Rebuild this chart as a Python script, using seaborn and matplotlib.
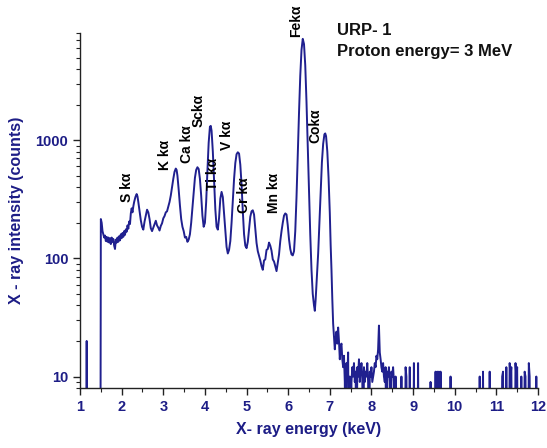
import matplotlib
matplotlib.use("Agg")
import matplotlib.pyplot as plt
import matplotlib.ticker as mticker
import seaborn as sns
import pandas as pd

# ---- data ----
energy_low = [1.00, 1.15, 1.16, 1.17, 1.49, 1.50,
              1.52, 1.54, 1.56, 1.58, 1.60, 1.62, 1.64, 1.66, 1.68, 1.70,
              1.72, 1.74, 1.76, 1.78, 1.80, 1.82, 1.84, 1.86, 1.88, 1.90,
              1.92, 1.94, 1.96, 1.98, 2.00, 2.02, 2.04, 2.06, 2.08, 2.10,
              2.12, 2.14, 2.16, 2.18, 2.20, 2.22, 2.24, 2.26, 2.28, 2.30,
              2.33, 2.36, 2.38, 2.40, 2.43, 2.46, 2.49, 2.52, 2.55, 2.58,
              2.61, 2.64, 2.67, 2.70, 2.73, 2.76, 2.79, 2.82, 2.85, 2.88,
              2.91, 2.94, 2.97, 3.00, 3.03, 3.06, 3.09, 3.12, 3.15, 3.18]
counts_low = [1, 1, 20, 1, 1, 215,
              200, 170, 160, 150, 156, 140, 152, 138, 150, 136,
              148, 132, 150, 138, 146, 128, 120, 144, 136, 150,
              138, 154, 142, 160, 148, 164, 152, 170, 158, 176,
              168, 190, 178, 205, 195, 240, 265, 245, 275, 300,
              330, 350, 335, 300, 250, 210, 185, 175, 205, 230,
              258, 245, 215, 180, 170, 182, 195, 208, 190, 182,
              172, 188, 198, 218, 228, 245, 250, 275, 300, 340]

energy_mid = [3.21, 3.24, 3.27, 3.30, 3.32, 3.34, 3.37, 3.40, 3.43, 3.46,
              3.49, 3.52, 3.55, 3.58, 3.61, 3.64, 3.67, 3.70, 3.73, 3.76,
              3.79, 3.82, 3.85, 3.88, 3.91, 3.94, 3.97, 4.00, 4.03, 4.06,
              4.09, 4.12, 4.14, 4.16, 4.19, 4.22, 4.25, 4.28, 4.31, 4.34,
              4.37, 4.40, 4.43, 4.46, 4.49, 4.52, 4.55, 4.58, 4.61, 4.64,
              4.67, 4.70, 4.73, 4.76, 4.79, 4.82, 4.85, 4.88, 4.91, 4.94,
              4.97, 5.00, 5.03, 5.06, 5.09, 5.12, 5.15, 5.18, 5.21, 5.24,
              5.27, 5.30, 5.33, 5.36, 5.39, 5.42, 5.45, 5.48, 5.51, 5.54,
              5.57, 5.60, 5.63, 5.66, 5.69, 5.72, 5.75, 5.78, 5.81, 5.84,
              5.87, 5.90, 5.93, 5.96, 5.99, 6.02, 6.05, 6.08, 6.11, 6.14]
counts_mid = [400, 470, 540, 575, 560, 500, 380, 280, 215, 185,
              170, 150, 152, 138, 144, 160, 200, 270, 370, 480,
              560, 590, 570, 470, 340, 230, 185, 200, 300, 550,
              950, 1300, 1320, 1200, 800, 450, 260, 185, 175, 220,
              320, 365, 330, 240, 170, 125, 110, 118, 140, 200,
              310, 470, 640, 760, 790, 770, 620, 420, 250, 160,
              128, 122, 138, 175, 225, 250, 255, 235, 180, 135,
              115, 105, 96, 86, 80, 96, 98, 118, 120, 136,
              128, 116, 98, 94, 86, 78, 92, 108, 140, 170,
              200, 230, 240, 235, 190, 145, 120, 108, 106, 115]

energy_fe_co = [6.17, 6.20, 6.23, 6.26, 6.29, 6.32, 6.35, 6.38, 6.41, 6.44,
                6.47, 6.50, 6.53, 6.56, 6.59, 6.62, 6.64, 6.66, 6.69, 6.72,
                6.75, 6.78, 6.81, 6.84, 6.87, 6.89, 6.91, 6.94, 6.97, 7.00,
                7.02, 7.04, 7.06, 7.08, 7.10, 7.12, 7.14, 7.16, 7.18, 7.20,
                7.22, 7.24, 7.26, 7.28, 7.30, 7.32, 7.34, 7.36, 7.38, 7.40,
                7.42, 7.44, 7.46]
counts_fe_co = [170, 330, 750, 1700, 3500, 5800, 7200, 6500, 4300, 2100,
                900, 380, 160, 80, 50, 40, 36, 45, 70, 110,
                200, 370, 650, 930, 1120, 1140, 1080, 800, 480, 240,
                130, 80, 45, 28, 22, 17, 21, 24, 19, 26,
                20, 14, 18, 19, 14, 12, 15, 9, 1, 13,
                10, 16, 1]

energy_tail = [7.48, 7.50, 7.52, 7.54, 7.56, 7.58, 7.60, 7.62, 7.64, 7.66,
               7.68, 7.70, 7.72, 7.74, 7.76, 7.78, 7.80, 7.82, 7.84, 7.86,
               7.88, 7.90, 7.92, 7.94, 7.96, 7.98, 8.00, 8.02, 8.04, 8.06,
               8.08, 8.10, 8.12, 8.14, 8.16, 8.18, 8.20, 8.22, 8.24, 8.26,
               8.28, 8.30, 8.32, 8.34, 8.36, 8.38, 8.40, 8.42, 8.44, 8.46,
               8.48, 8.50, 8.52, 8.54, 8.56, 8.58, 8.60, 8.70, 8.72, 8.74,
               8.80, 8.82, 8.84, 8.86, 8.90, 8.92, 8.94, 9.00, 9.02, 9.04,
               9.10, 9.12, 9.14, 9.40, 9.42, 9.44, 9.52, 9.54, 9.56, 9.58,
               9.60, 9.62, 9.64, 9.66, 9.68, 9.88, 9.90, 9.92, 10.58, 10.60,
               10.62, 10.66, 10.68, 10.70, 10.82, 10.84, 10.86, 11.12, 11.14, 11.16,
               11.18, 11.22, 11.24, 11.26, 11.30, 11.32, 11.34, 11.36, 11.38, 11.44,
               11.46, 11.48, 11.50, 11.52, 11.58, 11.60, 11.62, 11.66, 11.68, 11.70,
               11.72, 11.76, 11.78, 11.80, 11.82, 11.94, 11.96, 11.98, 12.00]
counts_tail = [10, 1, 9, 12, 10, 13, 9, 11, 1, 12,
               10, 14, 9, 11, 13, 10, 1, 12, 9, 11,
               10, 13, 9, 1, 11, 10, 12, 9, 10, 11,
               13, 12, 15, 14, 17, 27, 16, 14, 12, 11,
               13, 10, 9, 12, 1, 11, 10, 12, 9, 1,
               11, 10, 12, 9, 1, 10, 1, 1, 10, 1,
               1, 12, 10, 1, 1, 12, 1, 1, 13, 1,
               1, 13, 1, 1, 9, 1, 1, 11, 1, 11,
               1, 11, 1, 11, 1, 1, 10, 1, 1, 10,
               1, 1, 11, 1, 1, 11, 1, 1, 10, 11,
               1, 1, 12, 1, 1, 13, 10, 12, 1, 1,
               13, 10, 12, 1, 1, 10, 1, 1, 11, 10,
               1, 1, 13, 10, 1, 1, 10, 1, 1]

peak_labels = ["S k\u03b1", "K k\u03b1", "Ca k\u03b1", "Sck\u03b1", "Ti k\u03b1",
               "V k\u03b1", "Cr k\u03b1", "Mn k\u03b1", "Fek\u03b1", "Cok\u03b1"]
label_energy = [2.12, 3.04, 3.56, 3.84, 4.20, 4.54, 4.94, 5.66, 6.19, 6.66]
label_counts = [299, 557, 638, 1290, 377, 822, 240, 240, 7420, 944]

x_ticks = [1, 2, 3, 4, 5, 6, 7, 8, 9, 10, 11, 12]
y_ticks = [10, 100, 1000]

# ---- figure ----
energy = energy_low + energy_mid + energy_fe_co + energy_tail
counts = counts_low + counts_mid + counts_fe_co + counts_tail
df = pd.DataFrame({"energy": energy, "counts": counts})

sns.set_style("ticks")
plt.rcParams["font.family"] = ["Liberation Sans", "DejaVu Sans"]

navy = "#1d1d86"
fig = plt.figure(figsize=(5.47, 4.48), dpi=100)
ax = fig.add_axes([0.1463, 0.1339, 0.8372, 0.7915])

sns.lineplot(data=df, x="energy", y="counts", ax=ax, estimator=None,
             sort=False, color="#20208f", linewidth=1.4)

ax.set_yscale("log")
ax.set_xlim(1, 12)
ax.set_ylim(8, 8000)

ax.xaxis.set_major_locator(mticker.FixedLocator(x_ticks))
ax.xaxis.set_minor_locator(mticker.MultipleLocator(0.5))
ax.yaxis.set_major_locator(mticker.FixedLocator(y_ticks))
ax.yaxis.set_major_formatter(mticker.FuncFormatter(lambda v, p: f"{int(round(v))}"))
ax.yaxis.set_minor_locator(mticker.LogLocator(base=10, subs=[2, 3, 4, 5, 6, 7, 8, 9]))
ax.yaxis.set_minor_formatter(mticker.NullFormatter())

ax.tick_params(which="major", direction="out", length=5, width=1, color="#222222",
               labelsize=10.5, labelcolor=navy)
ax.tick_params(which="minor", direction="out", length=3, width=0.8, color="#222222")
for lab in ax.get_xticklabels() + ax.get_yticklabels():
    lab.set_fontweight("bold")

for side in ["top", "right"]:
    ax.spines[side].set_visible(False)
for side in ["left", "bottom"]:
    ax.spines[side].set_color("#222222")
    ax.spines[side].set_linewidth(1.0)

ax.set_xlabel("X- ray energy (keV)", fontsize=11.5, fontweight="bold", color=navy, labelpad=6)
ax.set_ylabel("X - ray intensity (counts)", fontsize=11.5, fontweight="bold", color=navy, labelpad=8)

for txt, ex, cy in zip(peak_labels, label_energy, label_counts):
    ax.text(ex, cy, txt, rotation=90, ha="center", va="bottom", fontsize=10,
            fontweight="bold", color="black")

fig.text(0.616, 0.922, "URP- 1", fontsize=12, fontweight="bold", color="#111111")
fig.text(0.616, 0.874, "Proton energy= 3 MeV", fontsize=12, fontweight="bold", color="#111111")

fig.savefig("out.png", dpi=100)
